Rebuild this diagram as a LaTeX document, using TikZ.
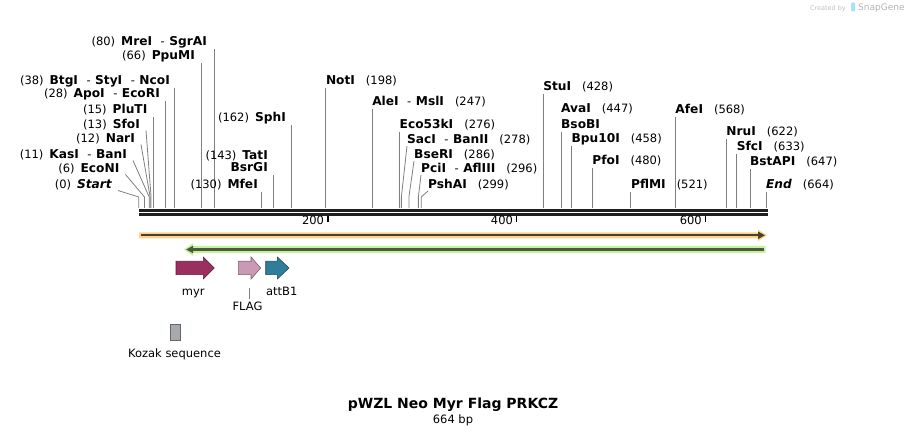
\documentclass[tikz,border=0pt]{standalone}
\usepackage{fontspec}
\setmainfont{DejaVu Sans}
\usetikzlibrary{arrows.meta}

\newcommand{\bpx}[1]{138.8+0.9445*(#1)}
\newcommand{\nm}[1]{{\fontsize{12.2}{13}\selectfont\bfseries #1}}
\newcommand{\gp}{\hspace{6pt}}
\newcommand{\gpr}{\hspace{11pt}}
\newcommand{\dsh}{\hspace{8.5pt}-\hspace{4.5pt}}

\definecolor{cutgray}{HTML}{7F7F7F}
\definecolor{myrcol}{HTML}{9B2F5F}
\definecolor{flagcol}{HTML}{CC99B4}
\definecolor{attcol}{HTML}{2E7E9B}
\definecolor{kozcol}{HTML}{A6A9AE}
\definecolor{orgband}{HTML}{FDD38A}
\definecolor{orgline}{HTML}{4A3F2C}
\definecolor{grnband}{HTML}{C4F39C}
\definecolor{grnline}{HTML}{4A5A3A}

\begin{document}
\begin{tikzpicture}[x=1pt,y=-1pt,
  lab/.style={inner xsep=0pt,inner ysep=2pt,text height=8.5pt,text depth=1.5pt,font=\fontsize{11.5}{13}\selectfont},
  cutline/.style={draw=cutgray,line width=0.8pt},
  feat/.style={draw=#1!60!black,fill=#1,line width=0.6pt}]
\useasboundingbox (0,0) rectangle (907,435);

% watermark
\node[lab,anchor=east,text=black!25,font=\fontsize{6.5}{8}\selectfont] (crby) at (846,7) {Created by};
\node[lab,anchor=west,text=black!30,font=\fontsize{9}{10}\selectfont] (sgene) at (858,7) {SnapGene};
\fill[cyan!35,rounded corners=1pt] (851,2.5) rectangle (855,11.5);

% backbone
\draw[line width=3pt,black!88] (139,210.3) -- (768,210.3);
\draw[line width=2.4pt,black!88] (139,214.6) -- (768,214.6);

% ruler
\foreach \t in {200,400,600}{
  \coordinate (tk\t) at ({\bpx{\t}},216);
  \draw[line width=1.6pt] (tk\t) -- ++(0,6);
  \node[lab,anchor=east] (tl\t) at ([shift={(-3.5,5)}]tk\t) {\t};
}

% sites, label left of the line
\foreach \id/\nb/\xr/\yy/\txt in {
  mre/80/207/42/{(80)\gp\nm{MreI}\dsh\nm{SgrAI}},
  ppu/66/195/56/{(66)\gp\nm{PpuMI}},
  btg/38/170/81/{(38)\gp\nm{BtgI}\dsh\nm{StyI}\dsh\nm{NcoI}},
  apo/28/160/94/{(28)\gp\nm{ApoI}\dsh\nm{EcoRI}},
  plu/15/147.5/110/{(15)\gp\nm{PluTI}},
  sph/162/286/118/{(162)\gp\nm{SphI}},
  bsr/143/268/168/{\nm{BsrGI}},
  mfe/130/258/185/{(130)\gp\nm{MfeI}}}{
  \node[lab,anchor=east] (\id) at (\xr,\yy) {\txt};
  \coordinate (s\id) at ({\bpx{\nb}},208);
  \draw[cutline] (s\id) -- (s\id |- \id.south);
}
\node[lab,anchor=east] (tat) at (268,156) {(143)\gp\nm{TatI}};

\foreach \id/\nb/\xr/\yy/\txt in {
  sfo/13/140/125/{(13)\gp\nm{SfoI}},
  nar/12/135/139/{(12)\gp\nm{NarI}},
  kas/11/127/155/{(11)\gp\nm{KasI}\dsh\nm{BanI}},
  econ/6/119.5/169/{(6)\gp\nm{EcoNI}},
  start/0/112/185/{(0)\gp\nm{\itshape Start}}}{
  \node[lab,anchor=east] (\id) at (\xr,\yy) {\txt};
  \coordinate (s\id) at ({\bpx{\nb}},208);
  \coordinate (k\id) at ({\bpx{\nb}},197);
  \draw[cutline] (s\id) -- (k\id) -- ([shift={(6,5.5)}]\id.east);
}

% sites, label right of the line
\foreach \id/\nb/\yy/\txt in {
  not/198/81/{\nm{NotI}\gpr(198)},
  ale/247/102/{\nm{AleI}\dsh\nm{MslI}\gpr(247)},
  eco/276/125/{\nm{Eco53kI}\gpr(276)},
  stu/428/87/{\nm{StuI}\gpr(428)},
  bso/447/125/{\nm{BsoBI}},
  bpu/458/139/{\nm{Bpu10I}\gpr(458)},
  pfo/480/161/{\nm{PfoI}\gpr(480)},
  pfl/521/185/{\nm{PflMI}\gpr(521)},
  afe/568/110/{\nm{AfeI}\gpr(568)},
  nru/622/132/{\nm{NruI}\gpr(622)},
  sfc/633/147/{\nm{SfcI}\gpr(633)},
  bst/647/162/{\nm{BstAPI}\gpr(647)},
  fin/664/185/{\nm{\itshape End}\gpr(664)}}{
  \coordinate (s\id) at ({\bpx{\nb}},208);
  \node[lab,anchor=west] (\id) at ({\bpx{\nb}},\yy) {\txt};
  \draw[cutline] (s\id) -- (s\id |- \id.south);
}
\node[lab,anchor=west] (ava) at ({\bpx{447}},109) {\nm{AvaI}\gpr(447)};

\foreach \id/\nb/\xl/\yy/\txt in {
  sac/278/407/140/{\nm{SacI}\dsh\nm{BanII}\gpr(278)},
  bse/286/414/155/{\nm{BseRI}\gpr(286)},
  pci/296/421/169/{\nm{PciI}\dsh\nm{AflIII}\gpr(296)},
  psh/299/428/185/{\nm{PshAI}\gpr(299)}}{
  \node[lab,anchor=west] (\id) at (\xl,\yy) {\txt};
  \coordinate (s\id) at ({\bpx{\nb}},208);
  \coordinate (k\id) at ({\bpx{\nb}},197);
  \draw[cutline] (s\id) -- (k\id) -- ([shift={(0,6)}]\id.west);
}

% features
\fill[orgband] (139,232.3) -- (758,232.3) -- (758,229.5) -- (767,235.3) -- (758,241.1) -- (758,238.3) -- (139,238.3) -- cycle;
\draw[orgline,line width=2.2pt,-{Triangle[length=7pt,width=7pt]}] (141,235.3) -- (765,235.3);
\fill[grnband] (765.5,246) -- (193,246) -- (193,243) -- (184,249.5) -- (193,256) -- (193,253) -- (765.5,253) -- cycle;
\draw[grnline,line width=2.2pt,-{Triangle[length=7pt,width=7pt]}] (764,249.5) -- (186,249.5);

\foreach \c/\xa/\xb/\xc in {myrcol/176/203.3/214.3, flagcol/238.3/251/260.7, attcol/265.7/277.3/289}
  \filldraw[feat=\c] (\xa,261.3) -- (\xb,261.3) -- (\xb,257) -- (\xc,268) -- (\xb,279) -- (\xb,274.7) -- (\xa,274.7) -- cycle;

\node[lab] (myr) at (193.3,291.7) {myr};
\node[lab] (att) at (281.8,291.7) {attB1};
\node[lab] (flag) at (247.5,306.7) {FLAG};
\coordinate (flagtip) at (249.3,287.7);
\draw[cutline] (flagtip) -- (flagtip |- flag.north);

\filldraw[draw=black!60,fill=kozcol,line width=0.6pt] (170,324) rectangle (180.7,340.7);
\node[lab] (koz) at (174.5,354) {Kozak sequence};

% title
\node[lab,font=\fontsize{14}{16}\selectfont\bfseries,text height=10pt,text depth=3pt] (title) at (453,404.5) {pWZL Neo Myr Flag PRKCZ};
\node[lab] (len) at (453,419.5) {664 bp};
\end{tikzpicture}
\end{document}
